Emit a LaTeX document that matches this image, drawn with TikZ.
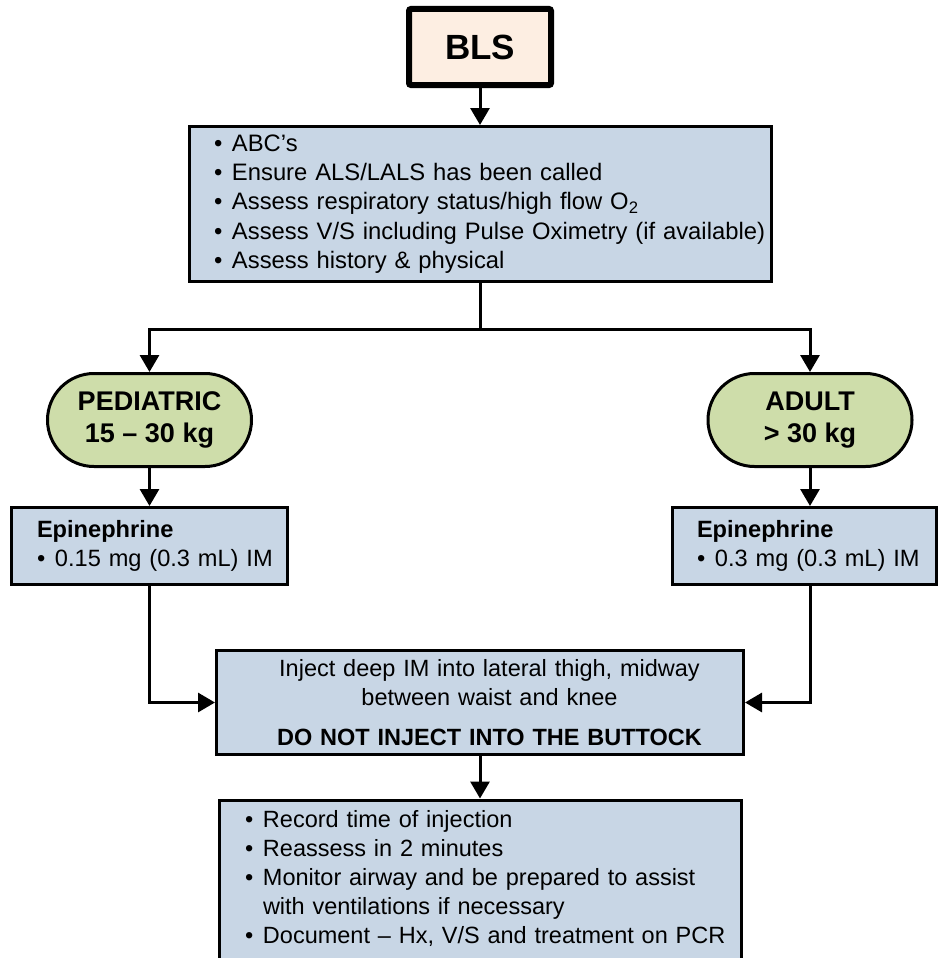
\documentclass[tikz,border=0pt]{standalone}
\usepackage{fontspec}
\setmainfont{Liberation Sans}
\usetikzlibrary{arrows.meta}

\definecolor{stepblue}{HTML}{C8D6E5}
\definecolor{agegreen}{HTML}{CEDDAA}
\definecolor{blspeach}{HTML}{FDEEE2}

\newcommand{\bitem}{\makebox[18pt][l]{\textbullet}}

\begin{document}
\begin{tikzpicture}[x=1pt,y=-1pt,
  listbox/.style={draw,line width=3pt,fill=stepblue,inner xsep=4pt,inner ysep=0pt,align=left,
    font=\fontsize{23.6}{29.3}\selectfont},
  textinset/.style={execute at begin node={\leftskip=#1\rightskip=-40pt plus 1fil}},
  agebox/.style={draw,line width=3pt,fill=agegreen,rounded corners=46.5pt,
    minimum width=204pt,minimum height=93pt,align=center,
    font=\bfseries\fontsize{27}{32}\selectfont},
  arr/.style={line width=3pt,-{Triangle[width=19pt,length=17pt]}}]
\useasboundingbox (0,0) rectangle (938,958);

\node[draw,line width=6pt,fill=blspeach,rounded corners=2pt,minimum width=142pt,minimum height=76pt,
  font=\bfseries\fontsize{35}{42}\selectfont] (bls) at (480,47) {BLS};

\node[listbox,text width=574pt,minimum height=155pt,textinset=21pt,
  font=\fontsize{23.8}{29.3}\selectfont] (abc) at (480,204)
  {\bitem ABC’s\\
   \bitem Ensure ALS/LALS has been called\\
   \bitem Assess respiratory status/high flow O\textsubscript{2}\\
   \bitem Assess V/S including Pulse Oximetry (if available)\\
   \bitem Assess history \& physical};

\coordinate (split) at (480,329);

\node[agebox] (ped) at (149.5,420) {PEDIATRIC\\15 -- 30 kg};
\node[agebox] (adult) at (810,420) {ADULT\\> 30 kg};

\node[listbox,text width=268pt,minimum height=77pt,textinset=21.5pt] (epiL) at (149.5,546)
  {{\bfseries Epinephrine}\\\bitem 0.15 mg (0.3 mL) IM};
\node[listbox,text width=256pt,minimum height=77pt,textinset=20.5pt] (epiR) at (804.5,546)
  {{\bfseries Epinephrine}\\\bitem 0.3 mg (0.3 mL) IM};

\node[listbox,align=center,text width=519pt,minimum height=104pt,
  execute at begin node={\leftskip=19pt plus 1fil\rightskip=0pt plus 1fil},
  font=\fontsize{23.5}{29.8}\selectfont] (inject) at (480,702.5)
  {Inject deep IM into lateral thigh, midway\\between waist and knee\\[10pt]
   \textbf{DO NOT INJECT INTO THE BUTTOCK}};

\node[listbox,anchor=north,text width=514pt,inner ysep=10pt,textinset=22pt,
  font=\fontsize{23.5}{29}\selectfont] (done) at (480,798.5)
  {\bitem Record time of injection\\
   \bitem Reassess in 2 minutes\\
   \bitem Monitor airway and be prepared to assist\\
   \hspace*{18pt}with ventilations if necessary\\
   \bitem Document -- Hx, V/S and treatment on PCR\rule[-80pt]{0pt}{80pt}};

\draw[arr] (bls) -- (abc);
\draw[line width=3pt] (abc) -- (split);
\draw[arr] (split) -| (ped);
\draw[arr] (split) -| (adult);
\draw[arr] (ped) -- (epiL);
\draw[arr] (adult) -- (adult |- epiR.north);
\draw[arr] (epiL) |- (inject);
\draw[arr] (adult |- epiR.south) |- (inject);
\draw[arr] (inject) -- (done);
\end{tikzpicture}
\end{document}
